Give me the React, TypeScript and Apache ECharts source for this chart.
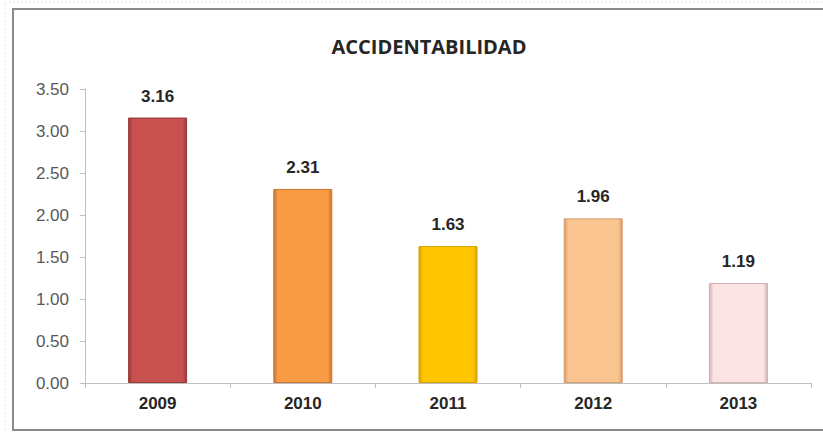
import React, { useEffect, useRef } from "react";
import * as echarts from "echarts";

const title = "ACCIDENTABILIDAD";
const years = ["2009", "2010", "2011", "2012", "2013"];
const values = [3.16, 2.31, 1.63, 1.96, 1.19];
const baseColors = ["#c8504e", "#f99b45", "#ffc600", "#fbc592", "#fde4e4"];
const edgeColors = ["#983a38", "#c97530", "#d6a000", "#d59c6c", "#d2b0b0"];
const yMin = 0;
const yMax = 3.5;
const yStep = 0.5;

export default function App() {
  const ref = useRef<HTMLDivElement>(null);
  useEffect(() => {
    if (!ref.current) return;
    const chart = echarts.init(ref.current, undefined, { renderer: "svg" });
    const data = values.map((v, i) => ({
      value: v,
      itemStyle: {
        color: {
          type: "linear",
          x: 0, y: 0, x2: 1, y2: 0,
          colorStops: [
            { offset: 0, color: edgeColors[i] },
            { offset: 0.07, color: baseColors[i] },
            { offset: 0.93, color: baseColors[i] },
            { offset: 1, color: edgeColors[i] },
          ],
        },
        borderColor: edgeColors[i],
        borderWidth: 1,
      },
    }));
    chart.setOption({
      animation: false,
      backgroundColor: "#ffffff",
      title: {
        text: title,
        left: 424,
        textAlign: "center",
        top: 31,
        textStyle: {
          fontFamily: "Open Sans",
          fontWeight: "bold",
          fontSize: 20,
          color: "#262626",
        },
      },
      graphic: [
        {
          type: "rect",
          shape: { x: 5, y: 2, width: 840, height: 440 },
          style: { fill: "none", stroke: "#e3e3e3", lineWidth: 1, lineDash: [2, 2] },
          silent: true,
        },
        {
          type: "rect",
          shape: { x: 13, y: 9, width: 830, height: 421 },
          style: { fill: "none", stroke: "#8a8a8a", lineWidth: 2 },
          silent: true,
        },
      ],
      grid: { left: 85, right: 12, top: 89, bottom: 49 },
      xAxis: {
        type: "category",
        data: years,
        boundaryGap: true,
        axisLine: { lineStyle: { color: "#bfbfbf", width: 1 } },
        axisTick: { show: true, length: 5, lineStyle: { color: "#bfbfbf" } },
        axisLabel: {
          margin: 12,
          fontFamily: "Liberation Sans",
          fontWeight: "bold",
          fontSize: 17,
          color: "#262626",
        },
      },
      yAxis: {
        type: "value",
        min: yMin,
        max: yMax,
        interval: yStep,
        splitLine: { show: false },
        axisLine: { show: true, lineStyle: { color: "#bfbfbf", width: 1 } },
        axisTick: { show: true, length: 5, lineStyle: { color: "#bfbfbf" } },
        axisLabel: {
          margin: 16,
          fontFamily: "Liberation Sans",
          fontSize: 17,
          color: "#595959",
          formatter: (v: number) => v.toFixed(2),
        },
      },
      series: [
        {
          type: "bar",
          data,
          barWidth: 59,
          label: {
            show: true,
            position: "top",
            distance: 13,
            fontFamily: "Liberation Sans",
            fontWeight: "bold",
            fontSize: 17,
            color: "#262626",
            formatter: (p: any) => Number(p.value).toFixed(2),
          },
        },
      ],
    });
    return () => chart.dispose();
  }, []);
  return (
    <div
      ref={ref}
      style={{ position: "fixed", left: 0, top: 0, width: 823, height: 432 }}
    />
  );
}
